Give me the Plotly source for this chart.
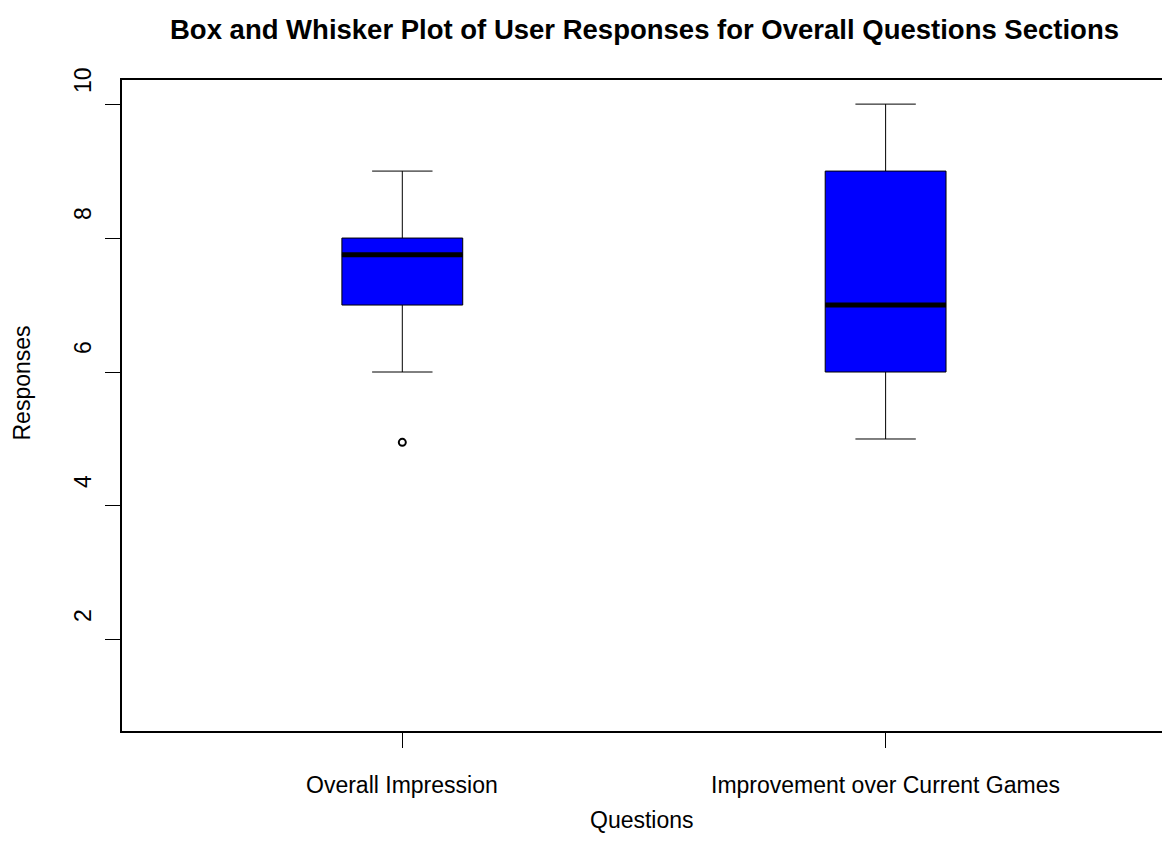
import plotly.graph_objects as go

# Summary statistics for each question section
categories = ["Overall Impression", "Improvement over Current Games"]
lower_whisker = [6, 5]
q1 = [7, 6]
median = [7.75, 7]
q3 = [8, 9]
upper_whisker = [9, 10]
outlier_group = [0]
outlier_value = [4.95]
y_ticks = [2, 4, 6, 8, 10]

FONT = "Liberation Sans, Arial, Helvetica, sans-serif"
BOX_WIDTH = 0.25
positions = list(range(1, len(categories) + 1))

fig = go.Figure()

for i, name in enumerate(categories):
    fig.add_trace(go.Box(
        x=[positions[i]],
        q1=[q1[i]], median=[median[i]], q3=[q3[i]],
        lowerfence=[lower_whisker[i]], upperfence=[upper_whisker[i]],
        width=BOX_WIDTH, whiskerwidth=0.5,
        fillcolor="#0000ff",
        line=dict(color="#000000", width=1),
        boxpoints=False, showlegend=False, hoverinfo="skip",
    ))
    # heavy median bar across the box
    fig.add_trace(go.Scatter(
        x=[positions[i] - BOX_WIDTH / 2, positions[i] + BOX_WIDTH / 2],
        y=[median[i], median[i]],
        mode="lines", line=dict(color="#000000", width=5),
        showlegend=False, hoverinfo="skip",
    ))

fig.add_trace(go.Scatter(
    x=[positions[g] for g in outlier_group], y=outlier_value,
    mode="markers",
    marker=dict(symbol="circle-open", size=7, color="#000000",
                line=dict(width=2, color="#000000")),
    showlegend=False, hoverinfo="skip",
))

annotations = []
# y tick labels, rotated
for t in y_ticks:
    annotations.append(dict(
        x=0, xref="paper", y=t, yref="y", text=str(t), textangle=-90,
        xanchor="center", yanchor="middle", xshift=-39, yshift=24,
        showarrow=False, font=dict(family=FONT, size=23, color="#000000"),
    ))
# category labels
for p, name in zip(positions, categories):
    annotations.append(dict(
        x=p, xref="x", y=0, yref="paper", text=name,
        xanchor="center", yanchor="middle", yshift=-54,
        showarrow=False, font=dict(family=FONT, size=23, color="#000000"),
    ))
annotations += [
    dict(x=0.5, xref="paper", y=0, yref="paper", text="Questions",
         xanchor="center", yanchor="middle", yshift=-89, showarrow=False,
         font=dict(family=FONT, size=23, color="#000000")),
    dict(x=0, xref="paper", y=0.5, yref="paper", text="Responses",
         textangle=-90, xanchor="center", yanchor="middle",
         xshift=-101, yshift=22, showarrow=False,
         font=dict(family=FONT, size=23, color="#000000")),
    dict(x=0.5, xref="paper", y=1, yref="paper",
         text="<b>Box and Whisker Plot of User Responses for Overall Questions Sections</b>",
         xanchor="center", yanchor="middle", yshift=51, xshift=2, showarrow=False,
         font=dict(family=FONT, size=27.5, color="#000000")),
]

fig.update_layout(
    width=1162, height=858,
    margin=dict(l=122, r=0, t=80, b=127),
    paper_bgcolor="#ffffff", plot_bgcolor="#ffffff",
    annotations=annotations,
    xaxis=dict(
        range=[0.42, 0.42 + 1040 / 483.3],
        tickvals=positions, showticklabels=False,
        ticks="outside", ticklen=15, tickwidth=1, tickcolor="#000000",
        showline=True, mirror=True, linecolor="#000000", linewidth=1.5,
        showgrid=False, zeroline=False,
    ),
    yaxis=dict(
        range=[0.64, 10.36],
        tickvals=y_ticks, showticklabels=False,
        ticks="outside", ticklen=15, tickwidth=1, tickcolor="#000000",
        showline=True, linecolor="#000000", linewidth=1.5,
        showgrid=False, zeroline=False,
    ),
)

fig.write_html("out.html")
